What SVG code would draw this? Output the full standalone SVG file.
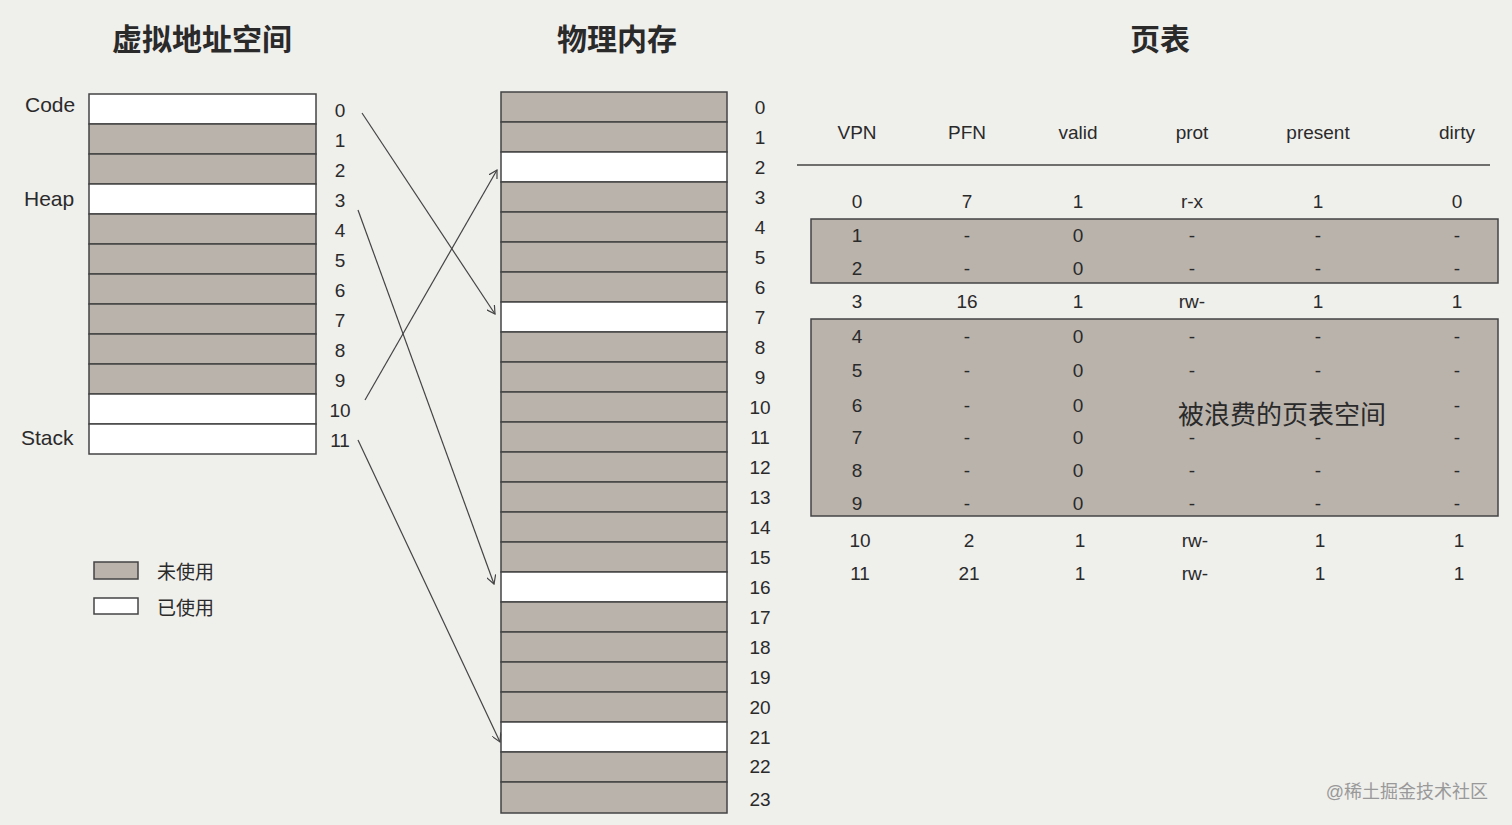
<svg xmlns="http://www.w3.org/2000/svg" width="1512" height="825" viewBox="0 0 1512 825">
<defs>
<style>
.t{font-family:"Liberation Sans","Noto Sans CJK SC",sans-serif;fill:#2a2a2a}
.h{font-size:30px;font-weight:bold;text-anchor:middle}
.n{font-size:19px;text-anchor:middle}
.l{font-size:21px}
.g{fill:#b9b3ac;stroke:#444;stroke-width:1.5}
.w{fill:#fff;stroke:#444;stroke-width:1.5}
.c{stroke:#444;stroke-width:1.2;fill:none}
</style>
<marker id="a" markerWidth="8" markerHeight="8" refX="7" refY="4" orient="auto"><path d="M0,0 L7,4 L0,8" fill="none" stroke="#444" stroke-width="1"/></marker>
</defs>
<rect width="1512" height="825" fill="#efefec"/>
<text class="t h" x="202" y="50">虚拟地址空间</text>
<text class="t h" x="617" y="50">物理内存</text>
<text class="t h" x="1160" y="50">页表</text>
<g id="virtual">
<rect class="w" x="89" y="94" width="227" height="30"/>
<rect class="g" x="89" y="124" width="227" height="30"/>
<rect class="g" x="89" y="154" width="227" height="30"/>
<rect class="w" x="89" y="184" width="227" height="30"/>
<rect class="g" x="89" y="214" width="227" height="30"/>
<rect class="g" x="89" y="244" width="227" height="30"/>
<rect class="g" x="89" y="274" width="227" height="30"/>
<rect class="g" x="89" y="304" width="227" height="30"/>
<rect class="g" x="89" y="334" width="227" height="30"/>
<rect class="g" x="89" y="364" width="227" height="30"/>
<rect class="w" x="89" y="394" width="227" height="30"/>
<rect class="w" x="89" y="424" width="227" height="30"/>
<text class="t l" x="25" y="112">Code</text>
<text class="t l" x="24" y="206">Heap</text>
<text class="t l" x="21" y="445">Stack</text>
<g class="t n">
<text x="340" y="117">0</text><text x="340" y="147">1</text><text x="340" y="177">2</text><text x="340" y="207">3</text><text x="340" y="237">4</text><text x="340" y="267">5</text><text x="340" y="297">6</text><text x="340" y="327">7</text><text x="340" y="357">8</text><text x="340" y="387">9</text><text x="340" y="417">10</text><text x="340" y="447">11</text>
</g>
</g>
<g id="physical">
<rect class="g" x="501" y="92" width="226" height="30"/>
<rect class="g" x="501" y="122" width="226" height="30"/>
<rect class="w" x="501" y="152" width="226" height="30"/>
<rect class="g" x="501" y="182" width="226" height="30"/>
<rect class="g" x="501" y="212" width="226" height="30"/>
<rect class="g" x="501" y="242" width="226" height="30"/>
<rect class="g" x="501" y="272" width="226" height="30"/>
<rect class="w" x="501" y="302" width="226" height="30"/>
<rect class="g" x="501" y="332" width="226" height="30"/>
<rect class="g" x="501" y="362" width="226" height="30"/>
<rect class="g" x="501" y="392" width="226" height="30"/>
<rect class="g" x="501" y="422" width="226" height="30"/>
<rect class="g" x="501" y="452" width="226" height="30"/>
<rect class="g" x="501" y="482" width="226" height="30"/>
<rect class="g" x="501" y="512" width="226" height="30"/>
<rect class="g" x="501" y="542" width="226" height="30"/>
<rect class="w" x="501" y="572" width="226" height="30"/>
<rect class="g" x="501" y="602" width="226" height="30"/>
<rect class="g" x="501" y="632" width="226" height="30"/>
<rect class="g" x="501" y="662" width="226" height="30"/>
<rect class="g" x="501" y="692" width="226" height="30"/>
<rect class="w" x="501" y="722" width="226" height="30"/>
<rect class="g" x="501" y="752" width="226" height="30"/>
<rect class="g" x="501" y="782" width="226" height="31"/>
<g class="t n">
<text x="760" y="114">0</text><text x="760" y="144">1</text><text x="760" y="174">2</text><text x="760" y="204">3</text><text x="760" y="234">4</text><text x="760" y="264">5</text><text x="760" y="294">6</text><text x="760" y="324">7</text><text x="760" y="354">8</text><text x="760" y="384">9</text><text x="760" y="414">10</text><text x="760" y="444">11</text><text x="760" y="474">12</text><text x="760" y="504">13</text><text x="760" y="534">14</text><text x="760" y="564">15</text><text x="760" y="594">16</text><text x="760" y="624">17</text><text x="760" y="654">18</text><text x="760" y="684">19</text><text x="760" y="714">20</text><text x="760" y="744">21</text><text x="760" y="773">22</text><text x="760" y="806">23</text>
</g>
</g>
<g id="connectors">
<path class="c" d="M362,113 L495,314" marker-end="url(#a)"/>
<path class="c" d="M358,210 L494,584" marker-end="url(#a)"/>
<path class="c" d="M365,400 L497,170" marker-end="url(#a)"/>
<path class="c" d="M358,440 L500,742" marker-end="url(#a)"/>
</g>
<g id="legend">
<rect class="g" x="94" y="562" width="44" height="17"/>
<rect class="w" x="94" y="598" width="44" height="16"/>
<text class="t" x="157" y="579" font-size="19">未使用</text>
<text class="t" x="157" y="615" font-size="19">已使用</text>
</g>
<g id="pagetable">
<rect class="g" x="811" y="219" width="687" height="64"/>
<rect class="g" x="811" y="319" width="687" height="197"/>
<line x1="797" y1="165" x2="1490" y2="165" stroke="#444" stroke-width="1.5"/>
<g class="t n" font-size="21">
<text x="857" y="139">VPN</text><text x="967" y="139">PFN</text><text x="1078" y="139">valid</text><text x="1192" y="139">prot</text><text x="1318" y="139">present</text><text x="1457" y="139">dirty</text>
</g>
<g class="t n">
<text x="857" y="208">0</text><text x="967" y="208">7</text><text x="1078" y="208">1</text><text x="1192" y="208">r-x</text><text x="1318" y="208">1</text><text x="1457" y="208">0</text>
<text x="857" y="242">1</text><text x="967" y="242">-</text><text x="1078" y="242">0</text><text x="1192" y="242">-</text><text x="1318" y="242">-</text><text x="1457" y="242">-</text>
<text x="857" y="275">2</text><text x="967" y="275">-</text><text x="1078" y="275">0</text><text x="1192" y="275">-</text><text x="1318" y="275">-</text><text x="1457" y="275">-</text>
<text x="857" y="308">3</text><text x="967" y="308">16</text><text x="1078" y="308">1</text><text x="1192" y="308">rw-</text><text x="1318" y="308">1</text><text x="1457" y="308">1</text>
<text x="857" y="343">4</text><text x="967" y="343">-</text><text x="1078" y="343">0</text><text x="1192" y="343">-</text><text x="1318" y="343">-</text><text x="1457" y="343">-</text>
<text x="857" y="377">5</text><text x="967" y="377">-</text><text x="1078" y="377">0</text><text x="1192" y="377">-</text><text x="1318" y="377">-</text><text x="1457" y="377">-</text>
<text x="857" y="412">6</text><text x="967" y="412">-</text><text x="1078" y="412">0</text><text x="1457" y="412">-</text>
<text x="857" y="444">7</text><text x="967" y="444">-</text><text x="1078" y="444">0</text><text x="1192" y="444">-</text><text x="1318" y="444">-</text><text x="1457" y="444">-</text>
<text x="857" y="477">8</text><text x="967" y="477">-</text><text x="1078" y="477">0</text><text x="1192" y="477">-</text><text x="1318" y="477">-</text><text x="1457" y="477">-</text>
<text x="857" y="510">9</text><text x="967" y="510">-</text><text x="1078" y="510">0</text><text x="1192" y="510">-</text><text x="1318" y="510">-</text><text x="1457" y="510">-</text>
<text x="860" y="547">10</text><text x="969" y="547">2</text><text x="1080" y="547">1</text><text x="1195" y="547">rw-</text><text x="1320" y="547">1</text><text x="1459" y="547">1</text>
<text x="860" y="580">11</text><text x="969" y="580">21</text><text x="1080" y="580">1</text><text x="1195" y="580">rw-</text><text x="1320" y="580">1</text><text x="1459" y="580">1</text>
</g>
<text class="t" x="1282" y="424" font-size="26" text-anchor="middle">被浪费的页表空间</text>
</g>
<text x="1488" y="798" font-family="Liberation Sans,Noto Sans CJK SC,sans-serif" font-size="18" fill="#999" text-anchor="end">@稀土掘金技术社区</text>
</svg>
